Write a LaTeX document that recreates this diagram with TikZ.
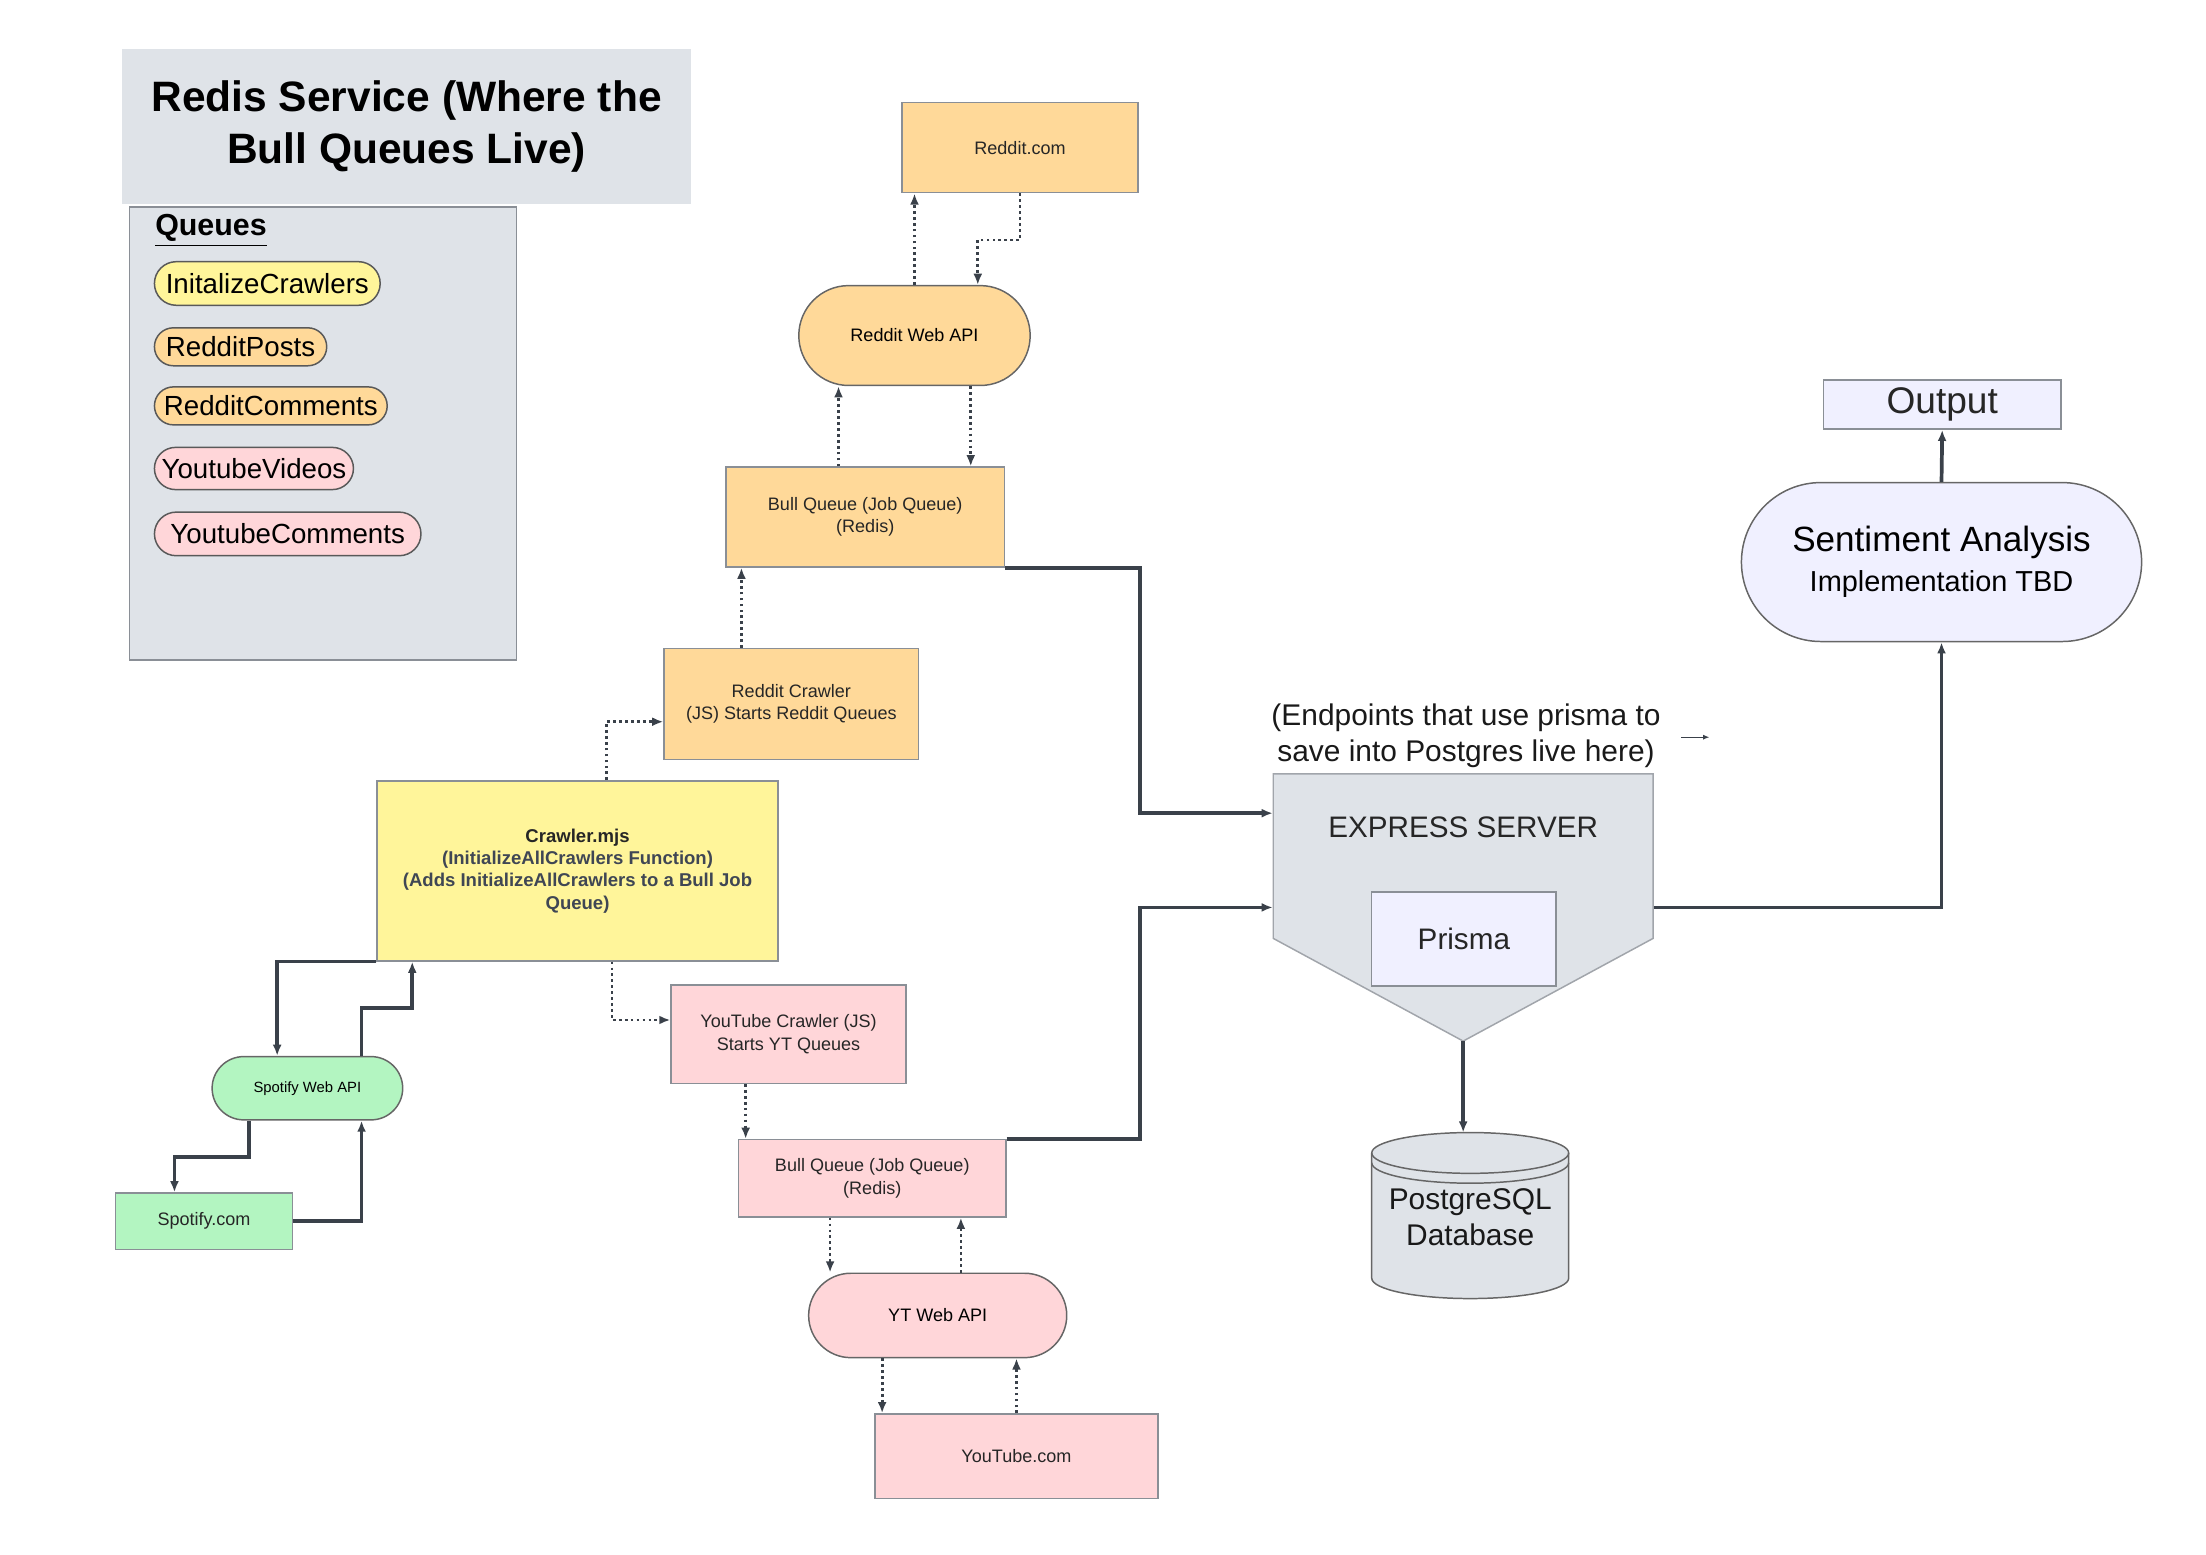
\documentclass[tikz,border=0pt]{standalone}
\usepackage{fontspec}
\setmainfont{Liberation Sans}
\usetikzlibrary{shapes.misc,arrows.meta}
\definecolor{redisgray}{HTML}{DFE3E8}
\definecolor{redditorange}{HTML}{FFD999}
\definecolor{crawleryellow}{HTML}{FFF59A}
\definecolor{ytpink}{HTML}{FFD6D9}
\definecolor{spotifygreen}{HTML}{B3F5C1}
\definecolor{lavender}{HTML}{F0F0FF}
\definecolor{wire}{HTML}{3A414A}
\definecolor{slate}{HTML}{3F4654}
\definecolor{edge}{HTML}{8A8F96}

\begin{document}
\begin{tikzpicture}[x=0.02cm,y=-0.02cm,
  dims/.style 2 args={minimum width=#1,minimum height=#2},
  box/.style={draw=edge, line width=0.6pt, align=center, inner sep=1pt, text=black!85},
  pill/.style={rounded rectangle, draw=black!65, line width=0.6pt, inner sep=1pt, font=\fontsize{11.2}{13}\selectfont},
  api/.style={rounded rectangle, draw=black!60, line width=0.6pt, align=center, inner sep=1pt},
  small/.style={font=\fontsize{7.3}{9}\selectfont},
  dotarrow/.style={wire, line width=1.1pt, dash pattern=on 1.1pt off 1.3pt, -{Latex[length=4.5pt,width=3.6pt]}},
  solidarrow/.style={wire, line width=1.5pt, -{Latex[length=4.5pt,width=3.6pt]}},
  thinarrow/.style={wire, line width=0.4pt, -{Latex[length=2.5pt,width=2pt]}}]
\useasboundingbox (0,0) rectangle (1568,1104.6);

\node (title) [fill=redisgray, dims={8.08cm}{2.2cm}, align=center, font=\bfseries\fontsize{17.2}{21}\selectfont] at (289,90) {Redis Service (Where the\\Bull Queues Live)};
\node (panel) [fill=redisgray, draw=edge, line width=0.6pt, dims={5.5cm}{6.44cm}] at (229.5,308) {};
\node (queues) [anchor=west, inner sep=0pt, font=\bfseries\fontsize{12.3}{14}\selectfont] at (110,164) {\underline{Queues}};

\node (qinit) [pill, fill=crawleryellow, dims={3.28cm}{0.62cm}] at (190,201.5) {InitalizeCrawlers};
\node (qposts) [pill, fill=redditorange, dims={2.52cm}{0.54cm}] at (171,246.5) {RedditPosts};
\node (qcomments) [pill, fill=redditorange, dims={3.38cm}{0.54cm}] at (192.5,288.5) {RedditComments};
\node (qvideos) [pill, fill=ytpink, dims={2.9cm}{0.6cm}] at (180.5,333) {YoutubeVideos};
\node (qytcomments) [pill, fill=ytpink, dims={3.86cm}{0.62cm}] at (204.5,379.5) {YoutubeComments};

\node (reddit) [box, small, fill=redditorange, dims={3.36cm}{1.28cm}] at (725,105) {Reddit.com};
\node (redditapi) [api, small, fill=redditorange, dims={3.36cm}{1.42cm}] at (650,238.5) {Reddit Web API};
\node (redditq) [box, small, fill=redditorange, dims={3.96cm}{1.42cm}] at (615,367.5) {Bull Queue (Job Queue)\\(Redis)};
\node (redditcrawler) [box, small, fill=redditorange, dims={3.62cm}{1.58cm}] at (562.5,500.5) {Reddit Crawler\\(JS) Starts Reddit Queues};
\node (crawler) [box, fill=crawleryellow, dims={5.7cm}{2.56cm}, font=\bfseries\fontsize{7.5}{9}\selectfont] at (410.5,619) {Crawler.mjs\\\textcolor{slate}{(InitializeAllCrawlers Function)}\\\textcolor{slate}{(Adds InitializeAllCrawlers to a Bull Job}\\\textcolor{slate}{Queue)}};
\node (ytcrawler) [box, small, fill=ytpink, dims={3.34cm}{1.4cm}] at (560.5,735) {YouTube Crawler (JS)\\Starts YT Queues};
\node (ytq) [box, small, fill=ytpink, dims={3.8cm}{1.1cm}] at (620,837.5) {Bull Queue (Job Queue)\\(Redis)};
\node (ytapi) [api, small, fill=ytpink, dims={3.74cm}{1.2cm}] at (666.5,935) {YT Web API};
\node (youtube) [box, small, fill=ytpink, dims={4.02cm}{1.2cm}] at (722.5,1035) {YouTube.com};
\node (spotifyapi) [api, fill=spotifygreen, dims={2.78cm}{0.9cm}, font=\fontsize{6}{7}\selectfont] at (218.5,773.5) {Spotify Web API};
\node (spotify) [box, small, fill=spotifygreen, dims={2.52cm}{0.8cm}] at (145,868) {Spotify.com};

\filldraw[fill=redisgray, draw=edge!80, line width=0.6pt] (905,550) -- (1175,550) -- (1175,667) -- (1040,740) -- (905,667) -- cycle;
\node (express) [dims={5.4cm}{2.34cm}] at (1040,608.5) {};
\node (expresslabel) [font=\fontsize{12}{14}\selectfont, text=black!85] at (1040,588) {EXPRESS SERVER};
\node (prisma) [box, fill=lavender, dims={2.62cm}{1.34cm}, font=\fontsize{12}{14}\selectfont] at (1040.5,667.5) {Prisma};
\node (note) [align=center, font=\fontsize{12.1}{14.7}\selectfont, text=black!90] at (1042,523) {(Endpoints that use prisma to\\save into Postgres live here)};
\coordinate (exptip) at (1040,740);

\filldraw[fill=redisgray, draw=black!60, line width=0.6pt] (975,819.5) -- (975,908.5) arc[start angle=180, end angle=0, x radius=70, y radius=14.5] -- (1115,819.5) arc[start angle=0, end angle=-180, x radius=70, y radius=14.5] -- cycle;
\draw[black!60, line width=0.6pt] (975,819.5) arc[start angle=180, end angle=0, x radius=70, y radius=14.5];
\draw[black!60, line width=0.6pt] (975,826.5) arc[start angle=180, end angle=0, x radius=70, y radius=14.5];
\node (db) [align=center, font=\fontsize{12.1}{14.7}\selectfont, text=black!90] at (1045,865) {PostgreSQL\\Database};
\coordinate (dbtop) at (1040,805);

\node (sentiment) [api, fill=lavender, dims={5.76cm}{2.26cm}] at (1380,399.5) {{\fontsize{14.2}{16}\selectfont Sentiment Analysis}\\[4pt]{\fontsize{11.7}{14}\selectfont Implementation TBD}};
\node (output) [box, fill=lavender, dims={3.38cm}{0.7cm}, font=\fontsize{15}{17}\selectfont] at (1380.5,287.5) {Output};

\coordinate (notearrowa) at (1195,524);
\coordinate (notearrowb) at (1215,524);
\draw[thinarrow] (notearrowa) -- (notearrowb);

\draw[dotarrow] (redditapi.north) -- (redditapi.north |- reddit.south);
\draw[dotarrow] (reddit.south) -- ++(0,33) -| ([xshift=0.9cm]redditapi.north);
\draw[dotarrow] ([xshift=-0.38cm]redditq.north) -- ([xshift=-0.38cm]redditq.north |- redditapi.south);
\draw[dotarrow] ([xshift=0.8cm]redditapi.south) -- ([xshift=0.8cm]redditapi.south |- redditq.north);
\draw[dotarrow] ([xshift=-0.71cm]redditcrawler.north) -- ([xshift=-0.71cm]redditcrawler.north |- redditq.south);
\draw[dotarrow] ([xshift=0.41cm]crawler.north) |- ([yshift=-0.25cm]redditcrawler.west);
\draw[dotarrow] ([xshift=0.49cm]crawler.south) |- ([yshift=0.2cm]ytcrawler.west);
\draw[dotarrow] ([xshift=-0.61cm]ytcrawler.south) -- ([xshift=-0.61cm]ytcrawler.south |- ytq.north);
\draw[dotarrow] ([xshift=-0.6cm]ytq.south) -- ([xshift=-0.6cm]ytq.south |- ytapi.north);
\draw[dotarrow] ([xshift=1.26cm]ytq.south |- ytapi.north) -- ([xshift=1.26cm]ytq.south);
\draw[dotarrow] ([xshift=-0.79cm]ytapi.south) -- ([xshift=-0.79cm]ytapi.south |- youtube.north);
\draw[dotarrow] (youtube.north) -- (youtube.north |- ytapi.south);

\draw[solidarrow] (redditq.south east) -- ++(96,0) |- ([yshift=0.61cm]express.west);
\draw[solidarrow] (ytq.north east) -- ++(95,0) |- ([yshift=-0.73cm]express.west);
\draw[solidarrow] ([yshift=-0.73cm]express.east) -| (sentiment.south);
\draw[solidarrow] (sentiment.north) -- (output.south);
\draw[solidarrow] (exptip) -- (dbtop);
\draw[solidarrow] (crawler.south west) -| ([xshift=-0.43cm]spotifyapi.north);
\draw[solidarrow] ([xshift=0.77cm]spotifyapi.north) -- ++(0,-34) -| ([xshift=-2.35cm]crawler.south);
\draw[solidarrow] ([xshift=-0.83cm]spotifyapi.south) -- ++(0,26) -| ([xshift=-0.42cm]spotify.north);
\draw[solidarrow] (spotify.east) -| ([xshift=0.77cm]spotifyapi.south);
\end{tikzpicture}
\end{document}
